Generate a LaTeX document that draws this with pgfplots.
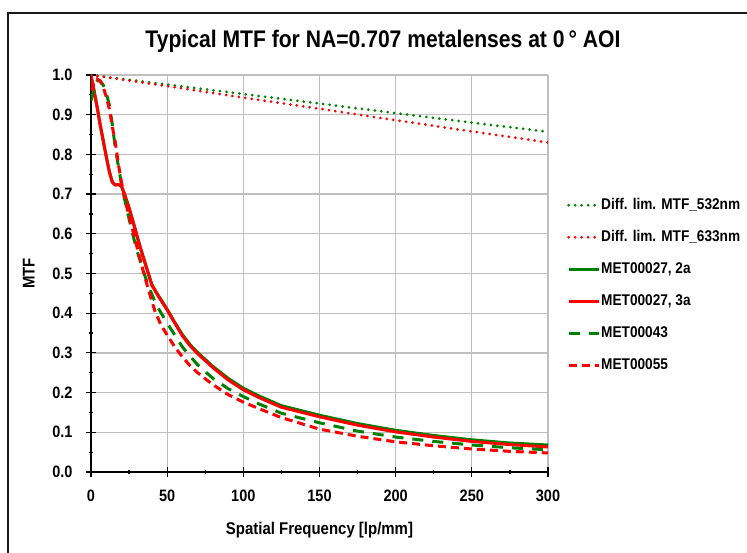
\documentclass[border=0pt]{standalone}
\usepackage{pgfplots}
\pgfplotsset{compat=1.18}
\usepackage{fontspec}
\setmainfont{Liberation Sans}[FakeStretch=0.88]

\definecolor{xlgreen}{RGB}{0,128,0}
\definecolor{xlred}{RGB}{255,0,0}
\definecolor{gridgray}{RGB}{191,191,191}

\pgfplotstableread{
nu mtf
0   1.000
50  0.976
100 0.952
150 0.928
200 0.904
250 0.880
300 0.857
}\difffivethree

\pgfplotstableread{
nu mtf
0   1.000
50  0.972
100 0.943
150 0.915
200 0.886
250 0.858
300 0.830
}\diffsixthree

\pgfplotstableread{
nu mtf
0   1.000
2   0.960
4   0.920
6   0.875
8   0.835
10  0.795
12  0.757
14  0.730
16  0.723
18  0.724
20  0.720
22  0.700
25  0.665
28  0.625
32  0.570
36  0.520
40  0.472
44  0.446
50  0.410
55  0.377
60  0.346
65  0.321
70  0.301
80  0.266
90  0.236
100 0.211
110 0.192
125 0.167
150 0.143
175 0.122
200 0.105
225 0.092
250 0.081
275 0.073
300 0.068
}\metA

\pgfplotstableread{
nu mtf
0   1.000
2   0.960
4   0.920
6   0.875
8   0.835
10  0.795
12  0.757
14  0.730
16  0.723
18  0.724
20  0.720
22  0.700
25  0.665
28  0.625
32  0.570
36  0.520
40  0.470
44  0.444
50  0.408
55  0.375
60  0.343
65  0.318
70  0.298
80  0.263
90  0.232
100 0.207
110 0.188
125 0.163
150 0.139
175 0.118
200 0.101
225 0.088
250 0.077
275 0.069
300 0.063
}\metB

\pgfplotstableread{
nu mtf
0   0.935
2   0.965
4   0.985
6   0.985
8   0.975
10  0.955
12  0.925
14  0.875
16  0.815
18  0.770
20  0.725
23  0.670
27  0.605
30  0.560
34  0.510
38  0.465
43  0.420
50  0.375
55  0.345
60  0.315
65  0.292
70  0.270
80  0.236
90  0.210
100 0.190
110 0.172
125 0.148
150 0.124
175 0.103
200 0.088
225 0.077
250 0.068
275 0.061
300 0.056
}\metC

\pgfplotstableread{
nu mtf
0   0.960
2   0.980
4   0.990
6   0.985
8   0.970
10  0.945
12  0.915
14  0.870
16  0.830
18  0.775
20  0.730
23  0.675
27  0.615
30  0.570
34  0.510
38  0.455
42  0.405
46  0.370
50  0.345
55  0.315
60  0.290
65  0.268
70  0.250
80  0.220
90  0.195
100 0.176
110 0.160
125 0.137
150 0.108
175 0.090
200 0.076
225 0.066
250 0.058
275 0.052
300 0.048
}\metD

\begin{document}
\begin{tikzpicture}
\useasboundingbox (-91bp,-81bp) rectangle (656bp,472bp);
\draw[line width=1.5bp,black!90] (-83bp,-120bp) -- (-83bp,459bp) -- (720bp,459bp);

\begin{axis}[
    scale only axis,
    width=457bp, height=397bp,
    xmin=0, xmax=300, ymin=0, ymax=1,
    axis x line=bottom, axis y line=left,
    axis line style={line width=1.4bp,-},
    xtick={0,50,...,300},
    ytick={0,0.1,...,1.0},
    minor x tick num=1, minor y tick num=1,
    tick style={black,line width=1.2bp},
    major tick length=10bp, tick align=center,
    minor tick style={/pgfplots/tick align=inside},
    minor tick length=4bp,
    grid=major,
    major grid style={gridgray,line width=1.3bp},
    /pgf/number format/assume math mode=true,
    yticklabel style={/pgf/number format/fixed,/pgf/number format/fixed zerofill,/pgf/number format/precision=1,xshift=-10bp},
    tick label style={font=\bfseries\fontsize{16.5bp}{18bp}\selectfont},
    xticklabel style={yshift=-9bp},
    xlabel={Spatial Frequency [lp/mm]},
    ylabel={MTF},
    label style={font=\bfseries\fontsize{17bp}{19bp}\selectfont},
    xlabel style={at={(axis description cs:0.5,-0.146)},anchor=center},
    ylabel style={at={(axis description cs:-0.136,0.5)},anchor=center},
    legend style={at={(axis description cs:1.0416,0.690)},anchor=north west,
        draw=none,fill=none,inner sep=0pt,row sep=18bp,
        font=\bfseries\fontsize{15.5bp}{17bp}\selectfont,
        nodes={inner xsep=1bp,inner ysep=0pt,text height=11bp,text depth=3bp}},
    legend cell align=left,
    legend image code/.code={\draw[#1] (0bp,0bp) -- (30bp,0bp);},
]
\addplot[xlgreen,line width=3bp,line cap=round,dash pattern=on 0bp off 6.5bp] table[x=nu,y=mtf] {\difffivethree};
\addlegendentry{Diff. lim. MTF\_532nm}
\addplot[xlred,line width=3bp,line cap=round,dash pattern=on 0bp off 6.5bp] table[x=nu,y=mtf] {\diffsixthree};
\addlegendentry{Diff. lim. MTF\_633nm}
\addplot[xlgreen,line width=3bp] table[x=nu,y=mtf] {\metA};
\addlegendentry{MET00027, 2a}
\addplot[xlred,line width=3bp] table[x=nu,y=mtf] {\metB};
\addlegendentry{MET00027, 3a}
\addplot[xlgreen,line width=3bp,dash pattern=on 11bp off 9bp] table[x=nu,y=mtf] {\metC};
\addlegendentry{MET00043}
\addplot[xlred,line width=3bp,dash pattern=on 8bp off 5bp] table[x=nu,y=mtf] {\metD};
\addlegendentry{MET00055}
\end{axis}

\node[font=\bfseries\fontsize{24bp}{26bp}\selectfont] at (292bp,431bp) {Typical MTF for NA=0.707 metalenses at 0\,° AOI};
\end{tikzpicture}
\end{document}
